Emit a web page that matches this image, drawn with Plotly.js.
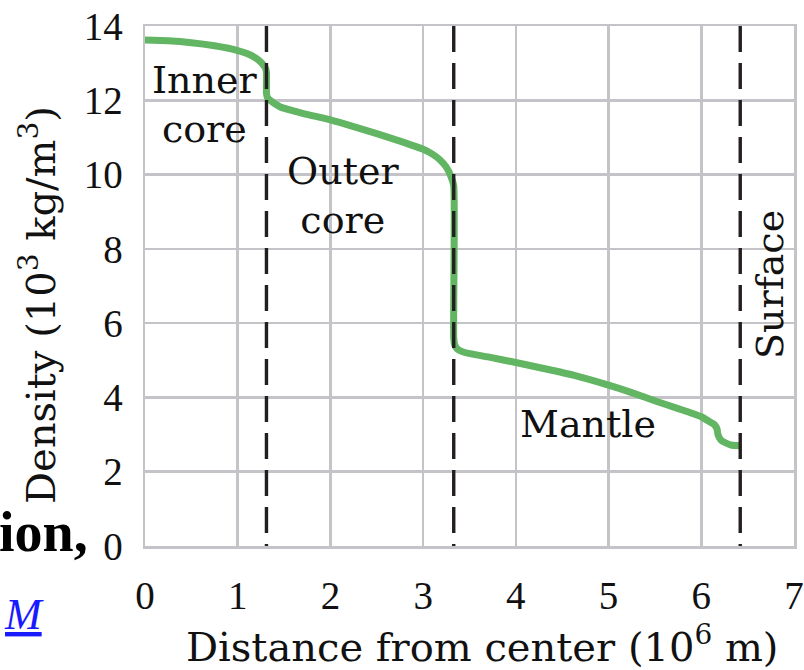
<!DOCTYPE html>
<html>
<head>
<meta charset="utf-8">
<script src="https://cdn.plot.ly/plotly-3.0.1.min.js"></script>
<style>
  html, body { margin: 0; padding: 0; background: #ffffff; }
  #chart { width: 804px; height: 670px; }
</style>
</head>
<body>
<div id="chart"></div>
<script>
// Distance from Earth's center (10^6 m)
const distance = [0, 0.25, 0.5, 0.75, 0.9, 1.0, 1.1, 1.2, 1.26, 1.3, 1.31, 1.31, 1.32, 1.36, 1.46, 1.7, 2.0, 2.25, 2.5, 2.75, 3.0, 3.1, 3.18, 3.25, 3.3, 3.33, 3.33, 3.34, 3.37, 3.45, 3.7, 4.0, 4.3, 4.62, 5.0, 5.25, 5.52, 5.75, 6.0, 6.1, 6.14, 6.17, 6.18, 6.21, 6.26, 6.32, 6.42];
// Density (10^3 kg/m^3)
const density = [13.62, 13.6, 13.55, 13.47, 13.4, 13.34, 13.26, 13.13, 13.0, 12.86, 12.75, 12.2, 12.08, 11.98, 11.82, 11.65, 11.47, 11.29, 11.1, 10.9, 10.68, 10.55, 10.4, 10.2, 9.95, 9.7, 5.6, 5.42, 5.3, 5.21, 5.09, 4.94, 4.78, 4.6, 4.33, 4.13, 3.89, 3.7, 3.48, 3.33, 3.27, 3.15, 3.0, 2.86, 2.78, 2.72, 2.70];

// Boundaries (10^6 m): inner core / outer core, outer core / mantle, surface
const boundaries = [1.31, 3.33, 6.42];
const boundaryRange = [14, 0];

// Region labels
const regionLabels = ["Inner<br>core", "Outer<br>core", "Mantle", "Surface"];
const regionLabelX = [0.64, 2.14, 4.78, 6.74];
const regionLabelY = [11.9, 9.45, 3.28, 7.05];
const regionLabelAngle = [0, 0, 0, -90];

const xTicks = [0, 1, 2, 3, 4, 5, 6, 7];
const yTicks = [0, 2, 4, 6, 8, 10, 12, 14];

const GREEN = '#62b562';
const GRID = '#c4c4c8';
const TEXT_FONT = 'DejaVu Serif, serif';
const TICK_FONT = 'Liberation Serif, Times New Roman, serif';

const traces = [{
  x: distance,
  y: density,
  type: 'scatter',
  mode: 'lines',
  line: { color: GREEN, width: 7, shape: 'spline', smoothing: 0.5 },
  hoverinfo: 'x+y',
  showlegend: false
}];

boundaries.forEach(function (b) {
  traces.push({
    x: [b, b],
    y: boundaryRange,
    type: 'scatter',
    mode: 'lines',
    line: { color: '#231f20', width: 3.4, dash: '26px,11px' },
    hoverinfo: 'skip',
    showlegend: false
  });
});

const annotations = regionLabels.map(function (t, i) {
  return {
    text: t,
    x: regionLabelX[i],
    y: regionLabelY[i],
    xref: 'x',
    yref: 'y',
    showarrow: false,
    textangle: regionLabelAngle[i],
    xanchor: 'center',
    yanchor: 'middle',
    font: { family: TEXT_FONT, size: 38, color: '#111111' }
  };
});

// stray page text visible at the left edge of the reference image
annotations.push({
  text: '<b>ion,</b>',
  xref: 'paper', yref: 'paper',
  x: (90 - 145) / 649, y: (546 - 532) / 520,
  xanchor: 'right', yanchor: 'middle',
  showarrow: false,
  font: { family: 'Liberation Serif, serif', size: 56, color: '#000000' }
});
annotations.push({
  text: '<u><i>M</i></u>',
  xref: 'paper', yref: 'paper',
  x: (2 - 145) / 649, y: (546 - 614) / 520,
  xanchor: 'left', yanchor: 'middle',
  showarrow: false,
  font: { family: 'Liberation Serif, serif', size: 44, color: '#1a1aff' }
});

const layout = {
  width: 804,
  height: 670,
  margin: { l: 145, r: 10, t: 26, b: 124, pad: 0 },
  paper_bgcolor: '#ffffff',
  plot_bgcolor: '#ffffff',
  showlegend: false,
  xaxis: {
    range: [0, 7],
    tickvals: xTicks,
    ticktext: xTicks.map(String),
    showgrid: true,
    gridcolor: GRID,
    gridwidth: 2.5,
    zeroline: false,
    showline: true,
    linecolor: GRID,
    linewidth: 2.5,
    mirror: true,
    ticks: '',
    ticklabelstandoff: 14,
    tickfont: { family: TICK_FONT, size: 39, color: '#111111' },
    title: {
      text: '&nbsp;&nbsp;Distance from center (10<sup>6</sup> m)',
      font: { family: TEXT_FONT, size: 40, color: '#111111' },
      standoff: 22
    }
  },
  yaxis: {
    range: [0, 14],
    tickvals: yTicks,
    ticktext: yTicks.map(String),
    showgrid: true,
    gridcolor: GRID,
    gridwidth: 2.5,
    zeroline: false,
    showline: true,
    linecolor: GRID,
    linewidth: 2.5,
    mirror: true,
    ticks: '',
    ticklabelstandoff: 12,
    tickfont: { family: TICK_FONT, size: 39, color: '#111111' },
    title: {
      text: 'Density (10<sup>3</sup> kg/m<sup>3</sup>)&nbsp;&nbsp;&nbsp;',
      font: { family: TEXT_FONT, size: 40, color: '#111111' },
      standoff: 16
    }
  },
  annotations: annotations
};

Plotly.newPlot('chart', traces, layout, { displayModeBar: false, staticPlot: true });
</script>
</body>
</html>
